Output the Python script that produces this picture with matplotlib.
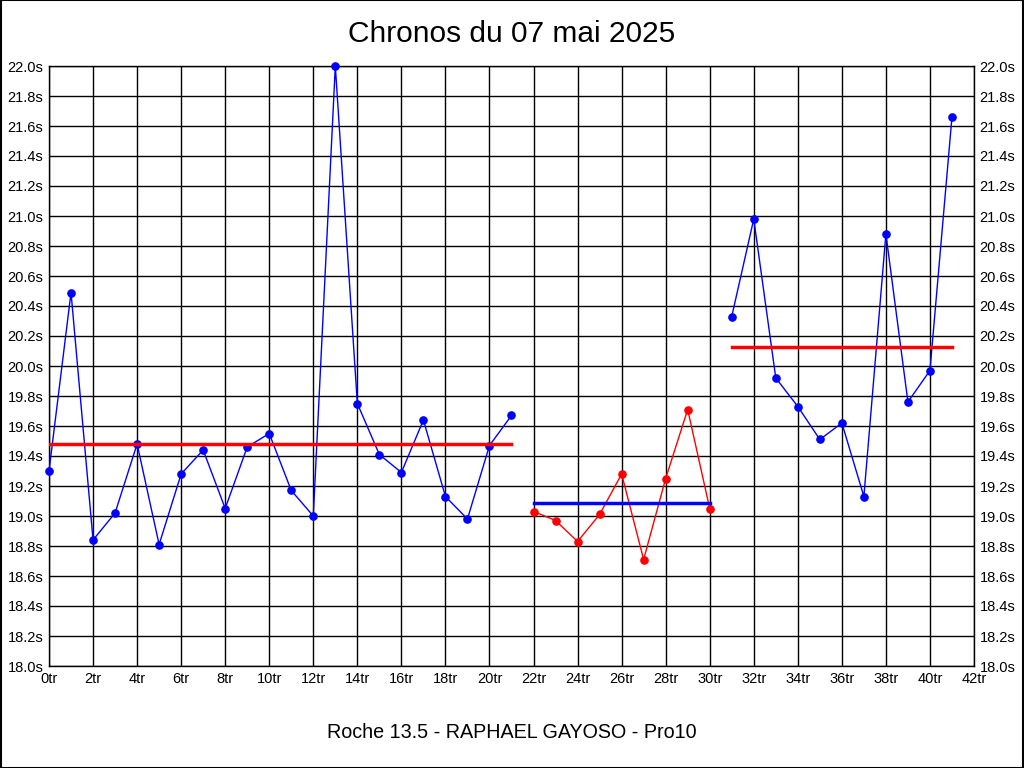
import matplotlib
matplotlib.use("Agg")
import matplotlib.pyplot as plt
from matplotlib.ticker import FuncFormatter, MultipleLocator
from matplotlib.patches import Rectangle

title = "Chronos du 07 mai 2025"
subtitle = "Roche 13.5 - RAPHAEL GAYOSO - Pro10"

laps1 = list(range(0, 22))
times1 = [19.30, 20.49, 18.84, 19.02, 19.48, 18.81, 19.28, 19.44, 19.05, 19.46, 19.55,
          19.17, 19.00, 22.00, 19.75, 19.41, 19.29, 19.64, 19.13, 18.98, 19.47, 19.67]
mean1 = 19.48

laps2 = list(range(22, 31))
times2 = [19.03, 18.97, 18.83, 19.01, 19.28, 18.71, 19.25, 19.71, 19.05]
mean2 = 19.09

laps3 = list(range(31, 42))
times3 = [20.33, 20.98, 19.92, 19.73, 19.51, 19.62, 19.13, 20.88, 19.76, 19.97, 21.66]
mean3 = 20.13

plt.rcParams['font.family'] = ['Liberation Sans', 'DejaVu Sans']

fig = plt.figure(figsize=(10.24, 7.68), dpi=100)
ax = fig.add_axes([49/1024, 1 - 666/768, (974-49)/1024, (666-66)/768])

ax.set_xlim(0, 42)
ax.set_ylim(18.0, 22.0)
ax.xaxis.set_major_locator(MultipleLocator(2))
ax.yaxis.set_major_locator(MultipleLocator(0.2))
ax.xaxis.set_major_formatter(FuncFormatter(lambda v, p: f"{int(round(v))}tr"))
ax.yaxis.set_major_formatter(FuncFormatter(lambda v, p: f"{v:.1f}s"))
ax.grid(True, color='black', linewidth=1)
ax.set_axisbelow(True)
for s in ax.spines.values():
    s.set_linewidth(1)
ax.tick_params(axis='both', length=0, labelsize=10.5, pad=4)
ax.tick_params(axis='y', labelright=True, labelleft=True)

ax.plot(laps1, times1, color='#0000ff', linewidth=1, marker='o', markersize=5.2, clip_on=False, zorder=3)
ax.plot(laps2, times2, color='#ff0000', linewidth=1, marker='o', markersize=5.2, clip_on=False, zorder=3)
ax.plot(laps3, times3, color='#0000ff', linewidth=1, marker='o', markersize=5.2, clip_on=False, zorder=3)

ax.plot([laps1[0], laps1[-1]], [mean1, mean1], color='#ff0000', linewidth=2.5, zorder=4)
ax.plot([laps2[0], laps2[-1]], [mean2, mean2], color='#0000ff', linewidth=2.5, zorder=4)
ax.plot([laps3[0], laps3[-1]], [mean3, mean3], color='#ff0000', linewidth=2.5, zorder=4)

fig.text(0.5, 1 - 34/768, title, ha='center', va='center', fontsize=21.5)
fig.text(0.5, 1 - 733/768, subtitle, ha='center', va='center', fontsize=14.2)

fig.patches.append(Rectangle((0.0005, 0.0005), 0.999, 0.999, transform=fig.transFigure,
                             fill=False, edgecolor='black', linewidth=1.5))

fig.savefig("out.png", dpi=100)
